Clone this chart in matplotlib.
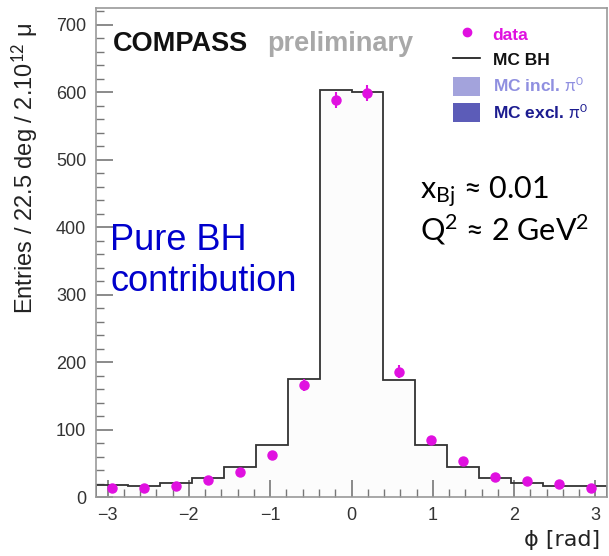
import numpy as np
import matplotlib
matplotlib.use("Agg")
import matplotlib.pyplot as plt
from matplotlib.lines import Line2D
from matplotlib.patches import Patch

# ---- data ----
n_bins = 16
mc_bh = [18, 17, 21, 28, 44, 77, 175, 604, 601, 174, 77, 44, 28, 21, 17, 17]
data_y = [14, 13, 17, 25, 37, 62, 166, 588, 599, 186, 84, 54, 29, 23, 19, 14]
data_err = [3, 3, 3, 4, 5, 6, 9, 12, 12, 9, 6, 5, 4, 3, 3, 3]

plt.rcParams['font.family'] = ['Liberation Sans', 'DejaVu Sans']
plt.rcParams['mathtext.fontset'] = 'custom'
plt.rcParams['mathtext.rm'] = 'Lato'
plt.rcParams['mathtext.it'] = 'Lato'

edges = np.linspace(-np.pi, np.pi, n_bins + 1)
centers = 0.5 * (edges[:-1] + edges[1:])

fig = plt.figure(figsize=(6.09, 5.56), dpi=100)
ax = fig.add_axes([96 / 609, 59 / 556, 511 / 609, 489 / 556])

# MC BH histogram (very light fill + dark step line)
ax.stairs(mc_bh, edges, fill=True, color='#fcfcfc', zorder=1)
ax.stairs(mc_bh, edges, color='#333333', linewidth=1.3, zorder=2)

# data points
ax.errorbar(centers, data_y, yerr=data_err, fmt='o', color='#e010e0',
            markersize=6.5, elinewidth=1.5, capsize=0, zorder=3)

ax.set_xlim(-np.pi, np.pi)
ax.set_ylim(0, 725)
ax.set_xticks([-3, -2, -1, 0, 1, 2, 3])
ax.set_xticks(np.arange(-3.0, 3.01, 0.2), minor=True)
ax.set_yticks(np.arange(0, 701, 100))
ax.set_yticks(np.arange(0, 721, 20), minor=True)
ax.tick_params(direction='in', length=12, width=1.2, color='#777777',
               labelsize=13, labelcolor='#333333', pad=7)
ax.tick_params(which='minor', direction='in', length=6, width=1.0, color='#777777')
for s in ax.spines.values():
    s.set_color('#999999')
    s.set_linewidth(1.2)

# axis titles (ROOT style placement)
fig.text(25 / 609, 1 - 168 / 556, 'Entries / 22.5 deg / 2.10$^{12}$ μ',
         rotation=90, ha='center', va='center', fontsize=17, color='#222222',
         family=['Liberation Sans', 'DejaVu Sans'])
fig.text(600 / 609, 1 - 540 / 556, 'ϕ [rad]', ha='right', va='center',
         fontsize=16, color='#222222', family=['DejaVu Sans'])

# COMPASS preliminary
fig.text(113 / 609, 1 - 44 / 556, 'COMPASS', ha='left', va='center',
         fontsize=19.5, fontweight='bold', color='#111111')
fig.text(267 / 609, 1 - 44 / 556, 'preliminary', ha='left', va='center',
         fontsize=19.5, fontweight='bold', color='#a8a8a8')

# legend
handles = [
    Line2D([], [], marker='o', linestyle='none', color='#e010e0', markersize=6),
    Line2D([], [], color='#111111', linewidth=1.2),
    Patch(facecolor='#a3a3dc', edgecolor='none'),
    Patch(facecolor='#5c5cb8', edgecolor='none'),
]
labels = ['data', 'MC BH', r'MC incl. $\pi^0$', r'MC excl. $\pi^0$']
leg = fig.legend(handles, labels, loc='upper left',
                 bbox_to_anchor=(444 / 609, 1 - 16 / 556),
                 frameon=False, prop={'weight': 'bold', 'size': 12.5},
                 labelcolor=['#e010e0', '#111111', '#8f8fe0', '#1c1c90'],
                 handlelength=1.6, handleheight=1.3, handletextpad=0.7,
                 labelspacing=0.38, borderpad=0)

# annotations
fig.text(110 / 609, 1 - 261 / 556, 'Pure BH\ncontribution', ha='left', va='center',
         fontsize=26, color='#0000cc', linespacing=1.2)
fig.text(420 / 609, 1 - 192 / 556, r'x$_{\mathrm{Bj}}$ ≈ 0.01', ha='left', va='center',
         fontsize=22, color='black', family='Lato')
fig.text(420 / 609, 1 - 230 / 556, r'Q$^{2}$ ≈ 2 GeV$^{2}$', ha='left', va='center',
         fontsize=22, color='black', family='Lato')

fig.savefig('out.png', dpi=100)
